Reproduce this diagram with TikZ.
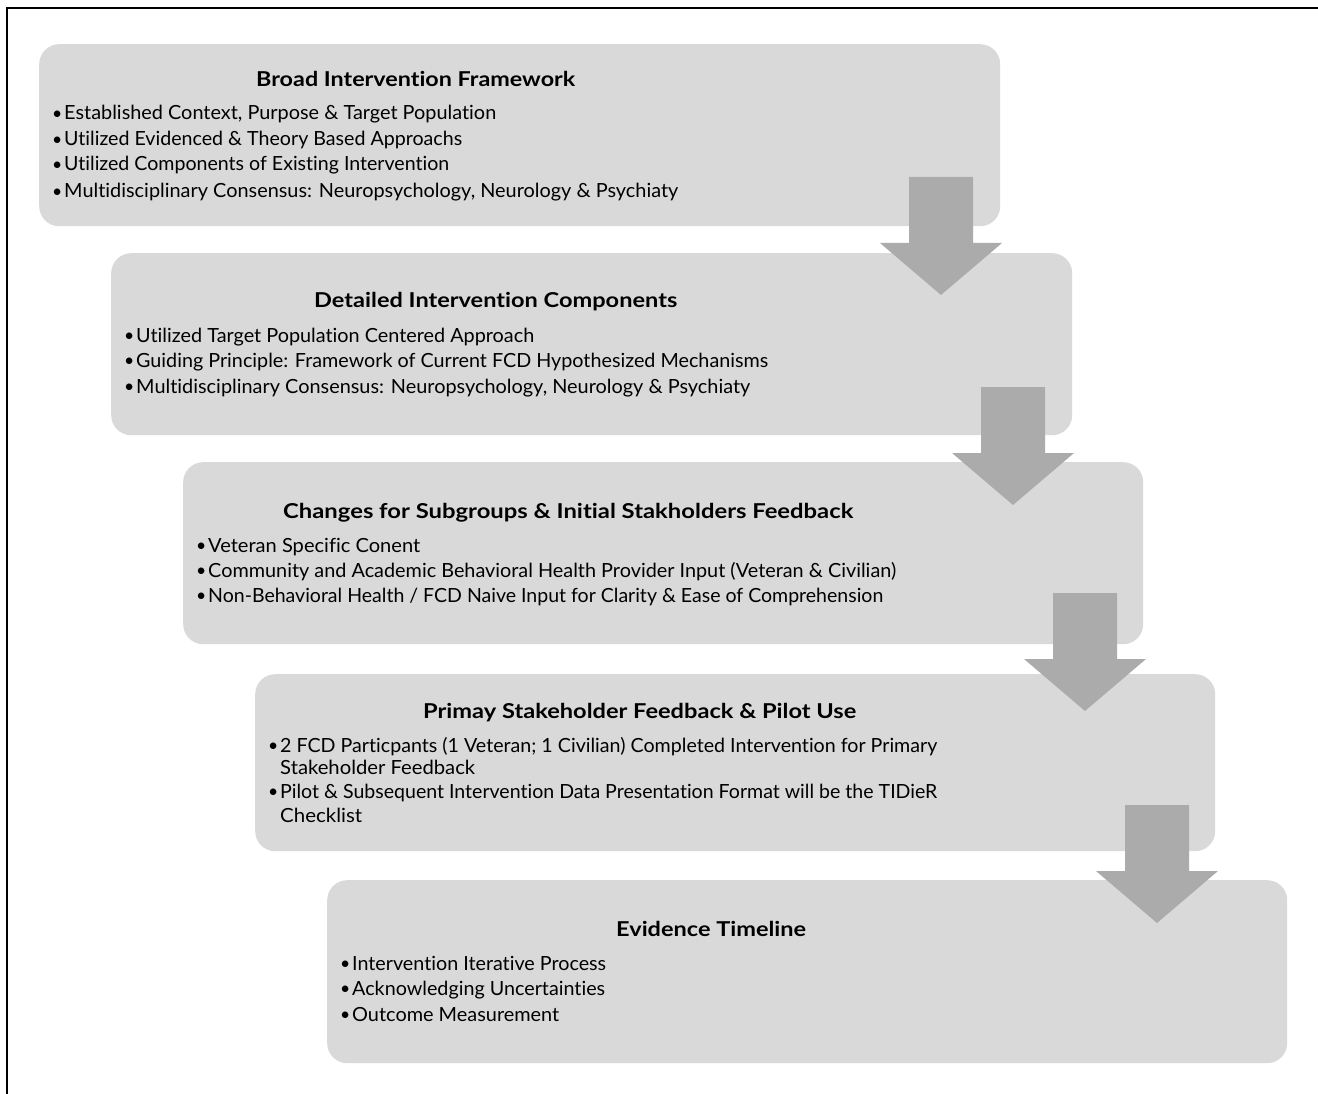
\documentclass[tikz,border=0pt]{standalone}
\usepackage{fontspec}
\setmainfont{Lato}[Ligatures={NoCommon,NoContextual}]
\usepackage{graphicx}
\definecolor{boxgray}{HTML}{D9D9D9}
\definecolor{arrgray}{HTML}{ABABAB}
\newcommand\fw[2]{\resizebox{#1pt}{\height}{#2}}
\newcommand\bl[2]{\makebox[12pt][l]{\raisebox{0.5pt}{\scalebox{0.9}{•}}}\fw{#1}{#2}}
\tikzset{
  box/.style={fill=boxgray, rounded corners=20pt, inner sep=0pt, anchor=north west},
  txt/.style={anchor=base west, inner sep=0pt, font=\fontsize{19.5}{23}\selectfont},
  ttl/.style={anchor=base west, inner sep=0pt, font=\bfseries\fontsize{20.5}{24}\selectfont},
  blockarrow/.style={fill=arrgray},
}
\begin{document}
\begin{tikzpicture}[x=1pt,y=-1pt]
\useasboundingbox (0,0) rectangle (1318,1094);
\draw[line width=2.5pt] (7,1094) -- (7,8) -- (1318,8);

% boxes
\node[box, minimum width=961pt, minimum height=182pt] (box1) at (39,44) {};
\node[box, minimum width=961pt, minimum height=182pt] (box2) at (111,253) {};
\node[box, minimum width=960pt, minimum height=182pt] (box3) at (183,462) {};
\node[box, minimum width=960pt, minimum height=177pt] (box4) at (255,674) {};
\node[box, minimum width=960pt, minimum height=183pt] (box5) at (327,880) {};

% box 1
\node[ttl] (t1) at (256,87) {\fw{319}{Broad Intervention Framework}};
\node[txt] (b1a) at (52,120) {\bl{432}{Established Context, Purpose \& Target Population}};
\node[txt] (b1b) at (52,146) {\bl{398}{Utilized Evidenced \& Theory Based Approachs}};
\node[txt] (b1c) at (52,171) {\bl{385}{Utilized Components of Existing Intervention}};
\node[txt] (b1d) at (52,198) {\bl{614}{Multidisciplinary Consensus: Neuropsychology, Neurology \& Psychiaty}};

% box 2
\node[ttl] (t2) at (314,308) {\fw{363}{Detailed Intervention Components}};
\node[txt] (b2a) at (124,342) {\bl{398}{Utilized Target Population Centered Approach}};
\node[txt] (b2b) at (124,367) {\bl{632}{Guiding Principle: Framework of Current FCD Hypothesized Mechanisms}};
\node[txt] (b2c) at (124,393) {\bl{614}{Multidisciplinary Consensus: Neuropsychology, Neurology \& Psychiaty}};

% box 3
\node[ttl] (t3) at (283,518) {\fw{570}{Changes for Subgroups \& Initial Stakholders Feedback}};
\node[txt] (b3a) at (196,552) {\bl{212}{Veteran Specific Conent}};
\node[txt] (b3b) at (196,577) {\bl{688}{Community and Academic Behavioral Health Provider Input (Veteran \& Civilian)}};
\node[txt] (b3c) at (196,602) {\bl{675}{Non-Behavioral Health / FCD Naive Input for Clarity \& Ease of Comprehension}};

% box 4
\node[ttl] (t4) at (423,718) {\fw{433}{Primay Stakeholder Feedback \& Pilot Use}};
\node[txt] (b4a) at (268,752) {\bl{657}{2 FCD Particpants (1 Veteran; 1 Civilian) Completed Intervention for Primary}};
\node[txt] (b4a2) at (280,774) {\fw{195}{Stakeholder Feedback}};
\node[txt] (b4b) at (268,798) {\bl{657}{Pilot \& Subsequent Intervention Data Presentation Format will be the TIDieR}};
\node[txt] (b4b2) at (280,822) {\fw{82}{Checklist}};

% box 5
\node[ttl] (t5) at (616,936) {\fw{190}{Evidence Timeline}};
\node[txt] (b5a) at (340,970) {\bl{254}{Intervention Iterative Process}};
\node[txt] (b5b) at (340,995) {\bl{253}{Acknowledging Uncertainties}};
\node[txt] (b5c) at (340,1021) {\bl{207}{Outcome Measurement}};

% block arrows
\foreach \dx/\tp in {0/177, 72/387, 144/593, 216/805} {
  \fill[blockarrow] (909+\dx,\tp) -- (973+\dx,\tp) -- (973+\dx,\tp+66) -- (1002+\dx,\tp+66)
    -- (941+\dx,\tp+118) -- (880+\dx,\tp+66) -- (909+\dx,\tp+66) -- cycle;
}
\end{tikzpicture}
\end{document}
